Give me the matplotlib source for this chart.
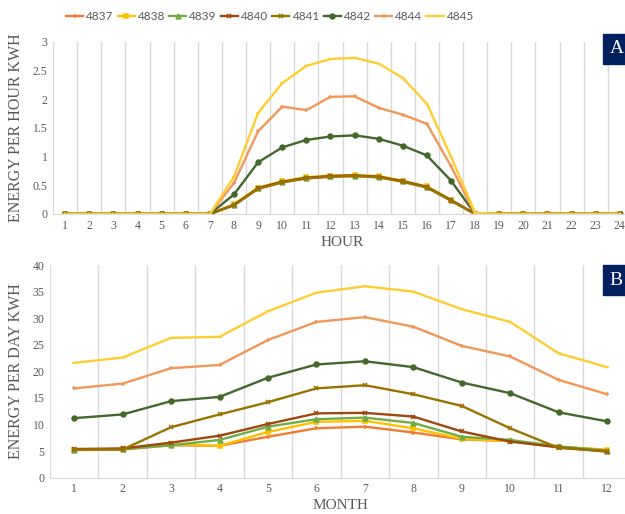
import matplotlib
matplotlib.use("Agg")
import matplotlib.pyplot as plt
import numpy as np

series = ["4837", "4838", "4839", "4840", "4841", "4842", "4844", "4845"]
colors = ["#ED7D31", "#FFC000", "#70AD47", "#9E480E", "#997300", "#43682B", "#F1975A", "#FFCD33"]
markers = ["+", "s", "^", "x", "x", "o", "+", "_"]

hours = list(range(1, 25))
z7 = [0] * 7
z6 = [0] * 6
hourly = {
    "4837": z7 + [0.16, 0.44, 0.55, 0.62, 0.65, 0.66, 0.64, 0.57, 0.47, 0.24, 0.0] + z6,
    "4838": z7 + [0.17, 0.46, 0.57, 0.64, 0.67, 0.68, 0.66, 0.58, 0.48, 0.25, 0.0] + z6,
    "4839": z7 + [0.16, 0.45, 0.56, 0.63, 0.66, 0.67, 0.65, 0.57, 0.47, 0.24, 0.0] + z6,
    "4840": z7 + [0.16, 0.45, 0.56, 0.63, 0.66, 0.67, 0.65, 0.57, 0.47, 0.24, 0.0] + z6,
    "4841": z7 + [0.15, 0.44, 0.55, 0.62, 0.65, 0.66, 0.64, 0.56, 0.46, 0.23, 0.0] + z6,
    "4842": z7 + [0.34, 0.90, 1.16, 1.29, 1.35, 1.37, 1.31, 1.19, 1.02, 0.58, 0.0] + z6,
    "4844": z7 + [0.54, 1.44, 1.87, 1.81, 2.04, 2.05, 1.85, 1.73, 1.57, 0.83, 0.0] + z6,
    "4845": z7 + [0.65, 1.76, 2.28, 2.58, 2.70, 2.72, 2.62, 2.37, 1.92, 1.00, 0.02] + z6,
}

months = list(range(1, 13))
monthly = {
    "4837": [5.2, 5.3, 6.1, 6.0, 7.7, 9.3, 9.6, 8.5, 7.2, 6.9, 5.8, 5.2],
    "4838": [5.3, 5.4, 6.3, 6.0, 8.6, 10.5, 10.7, 9.3, 7.3, 6.9, 5.8, 5.3],
    "4839": [5.3, 5.4, 6.1, 7.1, 9.6, 11.0, 11.3, 10.3, 7.7, 7.1, 5.9, 5.1],
    "4840": [5.4, 5.5, 6.6, 7.9, 10.1, 12.1, 12.2, 11.5, 8.7, 6.8, 5.7, 4.9],
    "4841": [5.3, 5.3, 9.5, 11.9, 14.2, 16.8, 17.4, 15.7, 13.5, 9.3, 5.6, 5.0],
    "4842": [11.2, 11.9, 14.4, 15.2, 18.8, 21.3, 21.9, 20.8, 17.9, 15.9, 12.3, 10.6],
    "4844": [16.8, 17.7, 20.6, 21.2, 25.9, 29.3, 30.2, 28.4, 24.8, 22.8, 18.4, 15.7],
    "4845": [21.6, 22.6, 26.3, 26.5, 31.3, 34.8, 36.0, 35.0, 31.7, 29.3, 23.4, 20.8],
}

serif = "Liberation Serif"
tick_col = "#595959"

fig = plt.figure(figsize=(6.25, 5.14), dpi=100)
ax1 = fig.add_axes([0.085, 0.5837, 0.926, 0.335])
ax2 = fig.add_axes([0.080, 0.0706, 0.930, 0.4138])

def style(ax, n, ymax, ystep, xlabel, ylabel):
    ax.set_xlim(0.5, n + 0.5)
    ax.set_ylim(0, ymax)
    ax.set_xticks(range(1, n + 1))
    ax.set_xticks(np.arange(0.5, n + 1, 1), minor=True)
    ax.set_yticks(np.arange(0, ymax + 0.001, ystep))
    ax.grid(True, which="minor", axis="x", color="#D9D9D9", lw=1)
    ax.grid(False, which="major")
    for s in ["top", "right", "left"]:
        ax.spines[s].set_visible(False)
    ax.spines["bottom"].set_color("#D9D9D9")
    ax.tick_params(which="both", length=0, labelsize=8.5, colors=tick_col, pad=4)
    ax.set_xlabel(xlabel, fontfamily=serif, fontsize=11, color=tick_col, labelpad=3)
    ax.set_ylabel(ylabel, fontfamily=serif, fontsize=11.5, color=tick_col, labelpad=6)

for ax, xs, data in [(ax1, hours, hourly), (ax2, months, monthly)]:
    for name, c, m in zip(series, colors, markers):
        ax.plot(xs, data[name], color=c, lw=1.7, marker=m, ms=3.5,
                mew=1.1, mec=c, mfc=c, label=name)

style(ax1, 24, 3, 0.5, "HOUR", "ENERGY PER HOUR KWH")
style(ax2, 12, 40, 5, "MONTH", "ENERGY PER DAY KWH")
ax1.yaxis.set_major_formatter(matplotlib.ticker.FuncFormatter(lambda v, _: "%g" % v))
for ax in (ax1, ax2):
    for lab in ax.get_xticklabels() + ax.get_yticklabels():
        lab.set_fontfamily(serif)

handles, labels = ax1.get_legend_handles_labels()
fig.legend(handles, labels, loc="center", bbox_to_anchor=(0.432, 0.967), ncol=8,
           frameon=False, handlelength=1.45, handletextpad=0.25,
           columnspacing=0.35, prop={"family": "Lato", "size": 8.5},
           labelcolor=tick_col)

for label, y in [("A", 0.905), ("B", 0.455)]:
    fig.text(0.975, y, label, fontfamily=serif, fontsize=14, color="white",
             ha="left", va="center",
             bbox=dict(boxstyle="square,pad=0.35", fc="#002060", ec="#002060"))

fig.savefig("out.png", dpi=100)
